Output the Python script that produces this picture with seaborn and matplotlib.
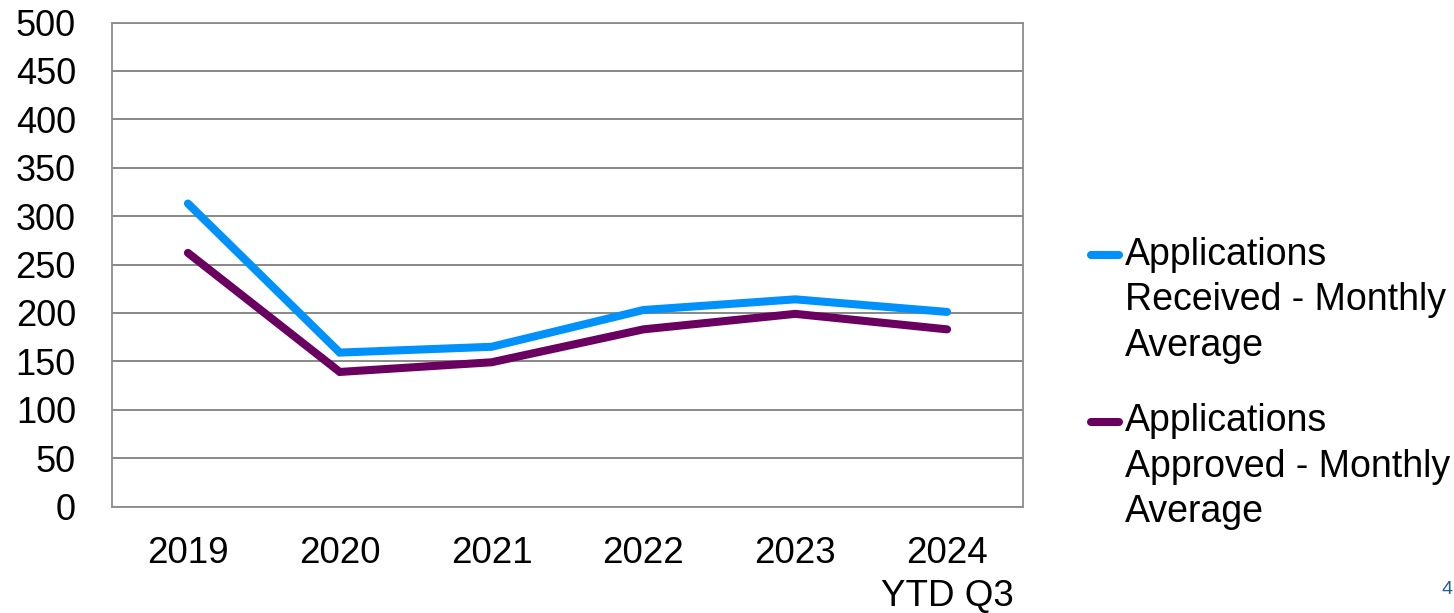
import matplotlib
matplotlib.use("Agg")
import matplotlib.pyplot as plt
from matplotlib.lines import Line2D
import seaborn as sns
import pandas as pd

years = ["2019", "2020", "2021", "2022", "2023", "2024\nYTD Q3"]
received = [313, 159, 165, 203, 214, 201]
approved = [262, 139, 149, 183, 199, 183]
series_names = ["Applications\nReceived - Monthly\nAverage",
                "Applications\nApproved - Monthly\nAverage"]
colors = ["#0091FA", "#6A005F"]

sns.set_theme(style="white")
plt.rcParams["font.family"] = ["Liberation Sans", "DejaVu Sans"]
plt.rcParams["text.color"] = "black"
plt.rcParams["xtick.color"] = "black"
plt.rcParams["ytick.color"] = "black"

df = pd.DataFrame({
    "value": received + approved,
    "series": [series_names[0]] * len(years) + [series_names[1]] * len(years),
    "pos": list(range(len(years))) * 2,
})

W, H = 1454, 613
fig = plt.figure(figsize=(W / 100, H / 100), dpi=100)
ax = fig.add_axes([112 / W, 1 - 506.5 / H, 911 / W, 484 / H])

sns.lineplot(data=df, x="pos", y="value", hue="series", palette=colors,
             linewidth=5.8, ax=ax, legend=False, sort=False)
for line in ax.get_lines():
    line.set_solid_capstyle("round")
    line.set_solid_joinstyle("miter")

ax.set_xlim(-0.5, len(years) - 0.5)
ax.set_ylim(0, 500)
ax.set_yticks(range(0, 501, 50))
ax.set_xticks(range(len(years)))
ax.set_xticklabels(years, fontsize=26.5, linespacing=1.3)
ax.tick_params(axis="y", labelsize=26, pad=26, length=0, labelcolor="black")
ax.tick_params(axis="x", pad=21, length=0, labelcolor="black")
ax.set_xlabel("")
ax.set_ylabel("")
ax.yaxis.grid(True, color="#7f7f7f", linewidth=1.3)
ax.set_axisbelow(True)
for s in ax.spines.values():
    s.set_color("#8c8c8c")
    s.set_linewidth(1.3)

# legend: short round-capped line beside the first line of each wrapped label
legend_rows = [255, 421.5]
for name, color, y in zip(series_names, colors, legend_rows):
    fig.add_artist(Line2D([1091 / W, 1119 / W], [1 - y / H, 1 - y / H],
                          color=color, linewidth=5.8, solid_capstyle="round",
                          transform=fig.transFigure))
    fig.text(1125 / W, 1 - (y + 101) / H, name, fontsize=27, color="black",
             ha="left", va="baseline", linespacing=1.34)

fig.text(1453 / W, 1 - 590 / H, "4", color="#1F5FA0", fontsize=14,
         ha="right", va="center")

fig.savefig("out.png", dpi=100)
